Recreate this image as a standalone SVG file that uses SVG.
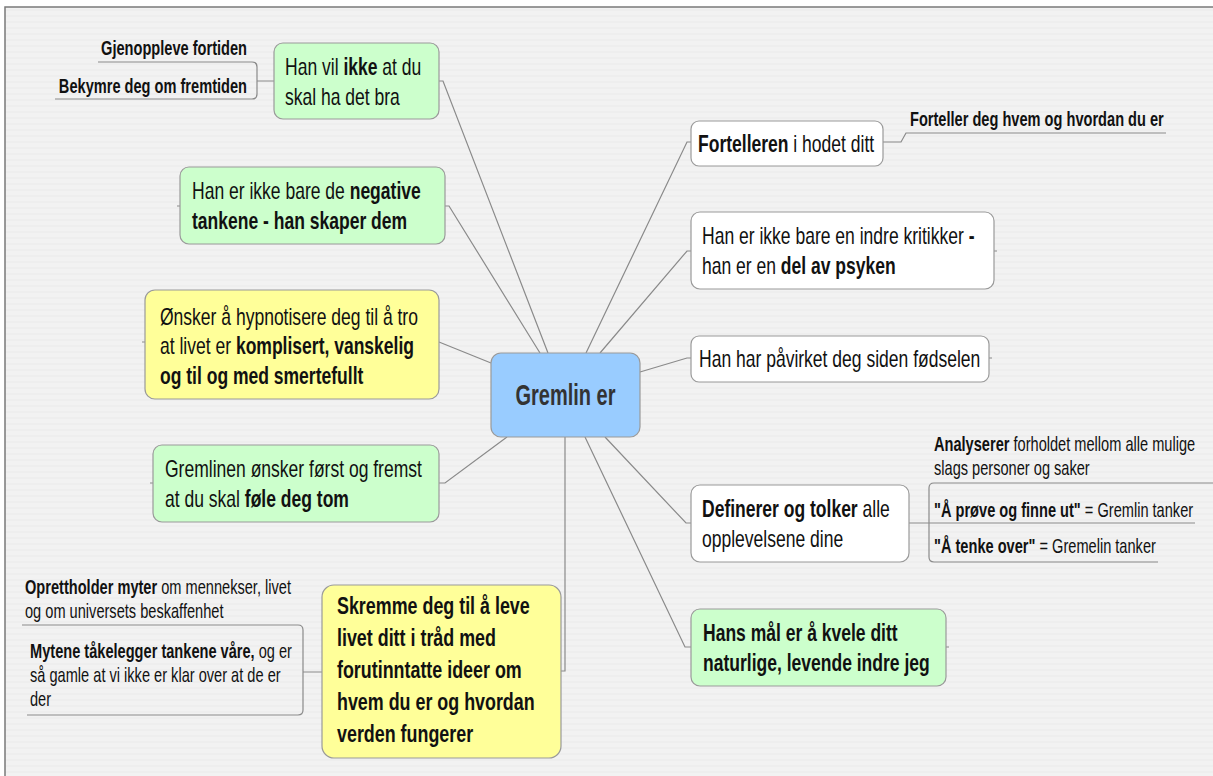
<svg xmlns="http://www.w3.org/2000/svg" width="1213" height="776" viewBox="0 0 1213 776">
<defs>
<pattern id="stripes" x="0" y="0" width="8" height="6" patternUnits="userSpaceOnUse">
<rect width="8" height="6" fill="#f2f2f2"/>
<rect y="3" width="8" height="2" fill="#eeeeee"/>
</pattern>
</defs>
<style>
.nd{stroke:#9a9a9a;stroke-width:1.2}
.g{fill:#ccffcc}.y{fill:#ffff99}.w{fill:#ffffff}.c{fill:#99ccff}
.t{font-family:"Liberation Sans",Arial,sans-serif;fill:#111}
.n{font-size:24px}.s{font-size:20px}.b{font-weight:bold}
.cn{fill:none;stroke:#8a8a8a;stroke-width:1.2}
</style>
<rect width="1213" height="776" fill="#ffffff"/>
<rect x="5" y="7" width="1210" height="772" fill="url(#stripes)" stroke="#7a7a7a" stroke-width="1.5"/>

<g id="connectors" class="cn">
<path d="M439,81 H443 L548,353"/>
<path d="M445,206 H449 L540,353"/>
<path d="M439,342 L491,363"/>
<path d="M439,483 H445 L507,437"/>
<path d="M691,142 H687 L586,353"/>
<path d="M691,251 H687 L600,353"/>
<path d="M691,358 H687 L640,372"/>
<path d="M691,523 H686 L605,437"/>
<path d="M691,647 H685 L585,437"/>
<path d="M561,671 H565 V437"/>
<path d="M177,206 H180 M142,342 H145 M150,483 H153 M994,251 H997 M989,358 H992 M946,647 H949"/>
<path d="M274,81 H257 M98,62 H252 Q257,62 257,67 V94 Q257,99 252,99 H55"/>
<path d="M883,142 H901 L906,133 H1166"/>
<path d="M909,523 H1195 M1213,483 H934 Q929,483 929,488 V557 Q929,562 934,562 H1158"/>
<path d="M322,672 H303 M22,625 H298 Q303,625 303,630 V710 Q303,715 298,715 H27"/>
</g>

<g id="center">
<rect class="nd c" x="491" y="353" width="149" height="84" rx="10"/>
<text class="t b" style="font-size:29px;fill:#333" text-anchor="middle" transform="translate(565.5,405) scale(0.69,1)">Gremlin er</text>
</g>

<g id="n-ikke">
<rect class="nd g" x="274" y="43" width="165" height="76" rx="9"/>
<text class="t n" transform="translate(285,75) scale(0.73,1)"><tspan x="0" y="0">Han vil <tspan class="b">ikke</tspan> at du</tspan><tspan x="0" y="30">skal ha det bra</tspan></text>
</g>
<g id="n-gjenoppleve">
<text class="t s b" text-anchor="end" transform="translate(247,55) scale(0.73,1)">Gjenoppleve fortiden</text>
</g>
<g id="n-bekymre">
<text class="t s b" text-anchor="end" transform="translate(247,93) scale(0.73,1)">Bekymre deg om fremtiden</text>
</g>

<g id="n-negative">
<rect class="nd g" x="180" y="167" width="265" height="77" rx="9"/>
<text class="t n" transform="translate(192,199) scale(0.73,1)"><tspan x="0" y="0">Han er ikke bare de <tspan class="b">negative</tspan></tspan><tspan class="b" x="0" y="30">tankene - han skaper dem</tspan></text>
</g>

<g id="n-hypnotisere">
<rect class="nd y" x="145" y="290" width="294" height="109" rx="10"/>
<text class="t n" transform="translate(160,325) scale(0.73,1)"><tspan x="0" y="0">Ønsker å hypnotisere deg til å tro</tspan><tspan x="0" y="29.5">at livet er <tspan class="b">komplisert, vanskelig</tspan></tspan><tspan class="b" x="0" y="59">og til og med smertefullt</tspan></text>
</g>

<g id="n-tom">
<rect class="nd g" x="153" y="445" width="286" height="77" rx="9"/>
<text class="t n" transform="translate(165,477) scale(0.73,1)"><tspan x="0" y="0">Gremlinen ønsker først og fremst</tspan><tspan x="0" y="30">at du skal <tspan class="b">føle deg tom</tspan></tspan></text>
</g>

<g id="n-skremme">
<rect class="nd y" x="322" y="585" width="239" height="173" rx="12"/>
<text class="t n b" style="font-size:24.5px" transform="translate(337,614) scale(0.73,1)"><tspan x="0" y="0">Skremme deg til å leve</tspan><tspan x="0" y="32">livet ditt i tråd med</tspan><tspan x="0" y="64">forutinntatte ideer om</tspan><tspan x="0" y="96">hvem du er og hvordan</tspan><tspan x="0" y="128">verden fungerer</tspan></text>
</g>
<g id="n-myter">
<text class="t s" transform="translate(25,594) scale(0.73,1)"><tspan x="0" y="0"><tspan class="b">Oprettholder myter</tspan> om mennekser, livet</tspan><tspan x="0" y="24">og om universets beskaffenhet</tspan></text>
</g>
<g id="n-mytene">
<text class="t s" transform="translate(30,658) scale(0.73,1)"><tspan x="0" y="0"><tspan class="b">Mytene tåkelegger tankene våre,</tspan> og er</tspan><tspan x="0" y="24">så gamle at vi ikke er klar over at de er</tspan><tspan x="0" y="48">der</tspan></text>
</g>

<g id="n-fortelleren">
<rect class="nd w" x="691" y="121" width="192" height="45" rx="8"/>
<text class="t n" transform="translate(698,152) scale(0.73,1)"><tspan class="b">Fortelleren</tspan> i hodet ditt</text>
</g>
<g id="n-forteller">
<text class="t s b" transform="translate(910,126) scale(0.73,1)">Forteller deg hvem og hvordan du er</text>
</g>

<g id="n-kritikker">
<rect class="nd w" x="691" y="212" width="303" height="77" rx="9"/>
<text class="t n" transform="translate(702,244) scale(0.73,1)"><tspan x="0" y="0">Han er ikke bare en indre kritikker <tspan class="b">-</tspan></tspan><tspan x="0" y="30">han er en <tspan class="b">del av psyken</tspan></tspan></text>
</g>

<g id="n-pavirket">
<rect class="nd w" x="691" y="336" width="298" height="46" rx="8"/>
<text class="t n" transform="translate(699,367) scale(0.73,1)">Han har påvirket deg siden fødselen</text>
</g>

<g id="n-definerer">
<rect class="nd w" x="691" y="485" width="218" height="77" rx="9"/>
<text class="t n" transform="translate(702,517) scale(0.73,1)"><tspan x="0" y="0"><tspan class="b">Definerer og tolker</tspan> alle</tspan><tspan x="0" y="30">opplevelsene dine</tspan></text>
</g>
<g id="n-analyserer">
<text class="t s" transform="translate(934,451) scale(0.73,1)"><tspan x="0" y="0"><tspan class="b">Analyserer</tspan> forholdet mellom alle mulige</tspan><tspan x="0" y="24">slags personer og saker</tspan></text>
</g>
<g id="n-prove">
<text class="t s" transform="translate(934,517) scale(0.73,1)"><tspan class="b">"Å prøve og finne ut"</tspan> = Gremlin tanker</text>
</g>
<g id="n-tenke">
<text class="t s" transform="translate(934,553) scale(0.73,1)"><tspan class="b">"Å tenke over"</tspan> = Gremelin tanker</text>
</g>

<g id="n-hansmal">
<rect class="nd g" x="691" y="609" width="255" height="77" rx="9"/>
<text class="t n b" transform="translate(703,641) scale(0.73,1)"><tspan x="0" y="0">Hans mål er å kvele ditt</tspan><tspan x="0" y="30">naturlige, levende indre jeg</tspan></text>
</g>
</svg>
